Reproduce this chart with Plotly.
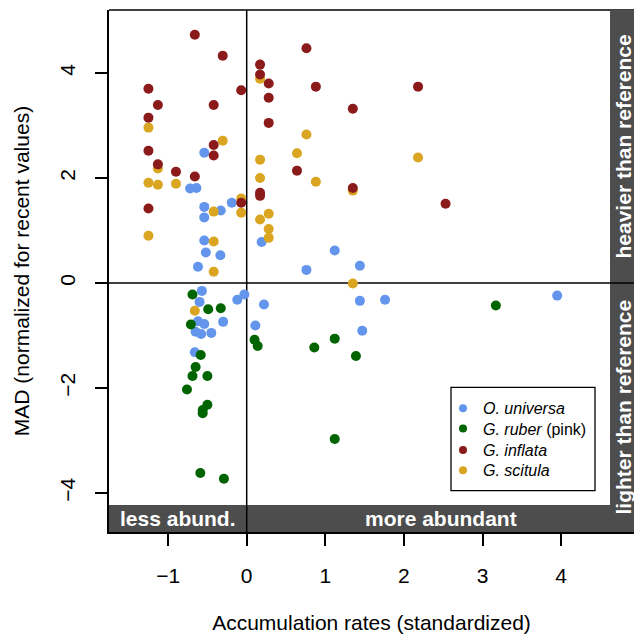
import plotly.graph_objects as go

# ---------------- data ----------------
universa_x = [-0.54, -0.72, -0.64, -0.54, -0.19, -0.33, -0.54, -0.54, -0.52, -0.335, -0.62,
              0.19, 1.12, 0.76, 1.44,
              -0.57, -0.60, -0.03, -0.12, 0.22, -0.62, -0.54, -0.30, -0.65, -0.58, -0.45,
              0.11, -0.66, 1.44, 1.76, 3.95, 1.47]
universa_y = [2.48, 1.80, 1.81, 1.45, 1.53, 1.38, 1.25, 0.81, 0.58, 0.53, 0.31,
              0.78, 0.62, 0.25, 0.33,
              -0.15, -0.36, -0.22, -0.32, -0.41, -0.73, -0.78, -0.74, -0.93, -0.97, -0.95,
              -0.81, -1.32, -0.34, -0.32, -0.24, -0.91]

ruber_x = [-0.69, -0.49, -0.33, -0.71, -0.585, -0.65, -0.69, -0.50, -0.76, -0.50, -0.56,
           -0.56, -0.59, -0.29, 0.10, 0.14, 0.86, 1.12, 1.12, 1.39, 3.17]
ruber_y = [-0.22, -0.50, -0.48, -0.79, -1.37, -1.60, -1.77, -1.77, -2.03, -2.32, -2.42,
           -2.48, -3.62, -3.73, -1.08, -1.20, -1.23, -1.06, -2.97, -1.39, -0.43]

inflata_x = [-0.66, -0.305, -1.25, -1.13, -0.42, -0.07, -1.25, -1.25, -0.42, -0.42, -1.13,
             -0.90, -0.66, -1.25, -0.07, 0.17, 0.17, 0.28, 0.28, 0.76, 0.88, 1.35, 0.28,
             0.64, 0.17, 0.17, 1.35, 2.18, 2.53]
inflata_y = [4.73, 4.33, 3.70, 3.39, 3.39, 3.67, 3.15, 2.52, 2.63, 2.43, 2.26,
             2.12, 2.03, 1.42, 1.53, 4.16, 3.97, 3.80, 3.53, 4.47, 3.74, 3.32, 3.05,
             2.14, 1.72, 1.66, 1.81, 3.74, 1.51]

scitula_x = [-1.25, -0.305, -1.13, -1.25, -1.13, -0.90, -0.07, -0.07, -0.42, -1.25, -0.42,
             -0.42, 0.17, 0.17, 0.17, 0.76, 0.64, 0.88, 1.35, 0.28, 0.17, 0.28, 0.28,
             2.18, 1.35, -0.66]
scitula_y = [2.96, 2.71, 2.18, 1.91, 1.87, 1.89, 1.61, 1.34, 1.36, 0.90, 0.79,
             0.215, 3.89, 2.35, 2.00, 2.83, 2.47, 1.93, 1.76, 1.32, 1.21, 1.03, 0.86,
             2.39, -0.01, -0.53]

x_ticks = [-1, 0, 1, 2, 3, 4]
y_ticks = [-4, -2, 0, 2, 4]

species = ["<i>O. universa</i>", "<i>G. ruber</i> (pink)", "<i>G. inflata</i>", "<i>G. scitula</i>"]
colors = ["#6495ED", "#006400", "#8B1A1A", "#DAA520"]

# ---------------- layout geometry (pixels) ----------------
W = H = 634
ML, MR, MT, MB = 109, 0, 10, 102
PW, PH = W - ML - MR, H - MT - MB
X0_PX, X_UNIT = 246.7, 78.6
Y0_PX, Y_UNIT = 283.0, 52.5
x_range = [(ML - X0_PX) / X_UNIT, (W - MR - X0_PX) / X_UNIT]
y_range = [(Y0_PX - (H - MB)) / Y_UNIT, (Y0_PX - MT) / Y_UNIT]


def px(xp):
    return (xp - ML) / PW


def py(yp):
    return (H - MB - yp) / PH


FONT = "Liberation Sans, Arial, Helvetica, sans-serif"
GRAY = "#4D4D4D"

fig = go.Figure()

series = [
    (universa_x, universa_y, colors[0]),
    (ruber_x, ruber_y, colors[1]),
    (scitula_x, scitula_y, colors[3]),
    (inflata_x, inflata_y, colors[2]),
]
for xs, ys, c in series:
    fig.add_trace(go.Scatter(x=xs, y=ys, mode="markers", showlegend=False,
                             marker=dict(size=10, color=c, line=dict(width=0)),
                             hoverinfo="x+y"))

legend_ids = ["legend", "legend2", "legend3", "legend4"]
legend_rows_px = [408.3, 428.7, 450.0, 470.3]
for name, c, lid in zip(species, colors, legend_ids):
    fig.add_trace(go.Scatter(x=[None], y=[None], mode="markers", name=name, legend=lid,
                             marker=dict(size=8, color=c, line=dict(width=0))))

shapes = []
# top border
shapes.append(dict(type="line", xref="paper", yref="paper", x0=0, x1=1, y0=1, y1=1,
                   line=dict(color="black", width=1.5), layer="below"))
# grey strips
shapes.append(dict(type="rect", xref="paper", yref="paper", x0=0, x1=1,
                   y0=0, y1=py(505), fillcolor=GRAY, line=dict(width=0), layer="below"))
shapes.append(dict(type="rect", xref="paper", yref="paper", x0=px(610), x1=1,
                   y0=0, y1=1, fillcolor=GRAY, line=dict(width=0), layer="below"))
# zero lines
shapes.append(dict(type="line", xref="x", yref="paper", x0=0, x1=0, y0=0, y1=1,
                   line=dict(color="black", width=1.5), layer="below"))
shapes.append(dict(type="line", xref="paper", yref="y", x0=0, x1=1, y0=0, y1=0,
                   line=dict(color="black", width=1.5), layer="below"))
# legend box
shapes.append(dict(type="rect", xref="paper", yref="paper", x0=px(451), x1=px(595),
                   y0=py(490.7), y1=py(387.3), line=dict(color="black", width=1.3),
                   fillcolor="rgba(0,0,0,0)", layer="above"))

strip_font = dict(family=FONT, size=21, color="white")
annotations = [
    dict(text="<b>less abund.</b>", xref="paper", yref="paper", x=px(178), y=py(518.3),
         showarrow=False, font=strip_font, xanchor="center", yanchor="middle"),
    dict(text="<b>more abundant</b>", xref="paper", yref="paper", x=px(441), y=py(518.3),
         showarrow=False, font=strip_font, xanchor="center", yanchor="middle"),
    dict(text="<b>heavier than reference</b>", xref="paper", yref="paper", x=px(623),
         y=py(146.5), showarrow=False, font=strip_font, textangle=-90,
         xanchor="center", yanchor="middle"),
    dict(text="<b>lighter than reference</b>", xref="paper", yref="paper", x=px(623),
         y=py(407.5), showarrow=False, font=strip_font, textangle=-90,
         xanchor="center", yanchor="middle"),
]

legend_layouts = {}
for lid, row in zip(legend_ids, legend_rows_px):
    legend_layouts[lid] = dict(x=px(443), y=py(row), xanchor="left", yanchor="middle",
                               bgcolor="rgba(0,0,0,0)", borderwidth=0,
                               font=dict(family=FONT, size=16, color="black"))

fig.update_layout(
    width=W, height=H,
    margin=dict(l=ML, r=MR, t=MT, b=MB, pad=0),
    paper_bgcolor="white", plot_bgcolor="white",
    font=dict(family=FONT, size=21, color="black"),
    shapes=shapes, annotations=annotations,
    showlegend=True,
    xaxis=dict(range=x_range, tickvals=x_ticks, ticks="outside", ticklen=12,
               tickwidth=1.5, tickcolor="black", showgrid=False, zeroline=False,
               showline=True, linecolor="black", linewidth=1.5,
               tickfont=dict(size=21), ticklabelstandoff=12,
               title=dict(text="Accumulation rates (standardized)", font=dict(size=21),
                          standoff=30),
               automargin=False),
    yaxis=dict(range=y_range, tickvals=y_ticks, ticks="outside", ticklen=12,
               tickwidth=1.5, tickcolor="black", showgrid=False, zeroline=False,
               showline=True, linecolor="black", linewidth=1.5,
               tickfont=dict(size=21), tickangle=-90, ticklabelstandoff=12,
               title=dict(text="MAD (normalized for recent values)", font=dict(size=21),
                          standoff=20),
               automargin=False),
    **legend_layouts,
)

fig.write_html("out.html")
